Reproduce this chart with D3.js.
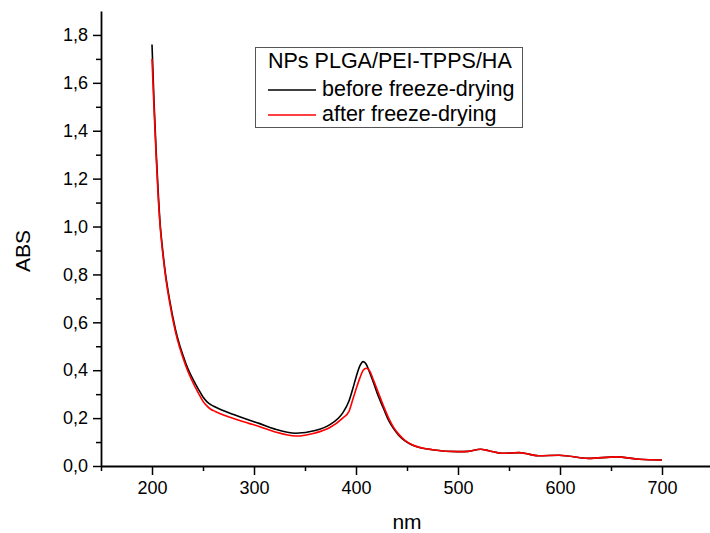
<!DOCTYPE html>
<html>
<head>
<meta charset="utf-8">
<script src="https://cdn.jsdelivr.net/npm/d3@7"></script>
<style>
  body { margin: 0; background: #fff; }
  svg { display: block; font-family: Arial, "Liberation Sans", sans-serif; }
</style>
</head>
<body>
<div id="chart"></div>
<script>
'use strict';

var w = 710;
var h = 533;

// wavelength (nm)
var wavelength = [200, 202, 204, 206, 208, 210, 213, 217, 223, 233, 246, 250, 254, 258, 262, 280,
  295, 305, 320, 341, 360, 374, 387, 393, 397, 400, 404, 407, 410, 413, 417, 422, 427, 432, 437,
  442, 448, 455, 475, 500, 510, 522, 530, 543, 560, 579, 599, 628, 655, 678, 700];

// absorbance before freeze-drying
var absBefore = [1.76, 1.52, 1.32, 1.15, 1.01, 0.92, 0.81, 0.70, 0.57, 0.43, 0.317, 0.288, 0.268,
  0.255, 0.246, 0.215, 0.192, 0.178, 0.155, 0.137, 0.148, 0.172, 0.222, 0.27, 0.325, 0.37, 0.42,
  0.436, 0.425, 0.395, 0.35, 0.29, 0.24, 0.19, 0.155, 0.128, 0.105, 0.088, 0.068, 0.06, 0.061,
  0.07, 0.064, 0.053, 0.056, 0.043, 0.045, 0.032, 0.038, 0.028, 0.025];

// absorbance after freeze-drying
var absAfter = [1.70, 1.49, 1.30, 1.13, 1.00, 0.91, 0.80, 0.69, 0.56, 0.42, 0.30, 0.27, 0.25,
  0.236, 0.228, 0.198, 0.178, 0.165, 0.143, 0.125, 0.138, 0.16, 0.20, 0.227, 0.28, 0.32, 0.37,
  0.40, 0.408, 0.40, 0.36, 0.305, 0.25, 0.20, 0.16, 0.132, 0.107, 0.089, 0.068, 0.06, 0.061,
  0.07, 0.064, 0.053, 0.056, 0.043, 0.045, 0.032, 0.038, 0.028, 0.025];

var xTicks = [200, 300, 400, 500, 600, 700];
var xMinor = [150, 250, 350, 450, 550, 650, 750];
var yTicks = [0, 0.2, 0.4, 0.6, 0.8, 1.0, 1.2, 1.4, 1.6, 1.8];
var yMinor = [0.1, 0.3, 0.5, 0.7, 0.9, 1.1, 1.3, 1.5, 1.7];

var legendTitle = 'NPs PLGA/PEI-TPPS/HA';
var seriesNames = ['before freeze-drying', 'after freeze-drying'];
var seriesColors = ['#000000', '#ff0000'];

var x = d3.scaleLinear().domain([150, 750]).range([101, 713]);
var y = d3.scaleLinear().domain([0, 1.9]).range([466, 11]);

var svg = d3.select('#chart').append('svg')
  .attr('width', w)
  .attr('height', h);

var fmt = function(d) { return d3.format('.1f')(d).replace('.', ','); };

// minor ticks first
svg.append('g')
  .attr('transform', 'translate(0,466)')
  .call(d3.axisBottom(x).tickValues(xMinor).tickSize(5).tickFormat(''))
  .call(function(g) { g.select('.domain').remove(); });

svg.append('g')
  .attr('transform', 'translate(101,0)')
  .call(d3.axisLeft(y).tickValues(yMinor).tickSize(5).tickFormat(''))
  .call(function(g) { g.select('.domain').remove(); });

svg.append('g')
  .attr('transform', 'translate(0,466)')
  .call(d3.axisBottom(x).tickValues(xTicks).tickSize(9).tickSizeOuter(0).tickPadding(6));

svg.append('g')
  .attr('transform', 'translate(101,0)')
  .call(d3.axisLeft(y).tickValues(yTicks).tickSize(8).tickSizeOuter(0).tickPadding(5).tickFormat(fmt));

svg.selectAll('.tick line').attr('stroke', '#000').attr('stroke-width', 1.5);
svg.selectAll('.domain').attr('stroke', '#000').attr('stroke-width', 1.8);
svg.selectAll('.tick text')
  .attr('fill', '#000')
  .style('font-size', '18px')
  .style('font-family', 'Arial, "Liberation Sans", sans-serif');

// axis titles
svg.append('text')
  .attr('x', 407)
  .attr('y', 529)
  .attr('text-anchor', 'middle')
  .style('font-size', '21px')
  .text('nm');

svg.append('text')
  .attr('transform', 'translate(30,251) rotate(-90)')
  .attr('text-anchor', 'middle')
  .style('font-size', '21px')
  .text('ABS');

// curves
var line = d3.line()
  .x(function(d) { return x(d[0]); })
  .y(function(d) { return y(d[1]); })
  .curve(d3.curveMonotoneX);

var series = [absBefore, absAfter];
series.forEach(function(vals, i) {
  svg.append('path')
    .datum(wavelength.map(function(nm, j) { return [nm, vals[j]]; }))
    .attr('fill', 'none')
    .attr('stroke', seriesColors[i])
    .attr('stroke-width', 1.6)
    .attr('d', line);
});

// legend
var legend = svg.append('g');
legend.append('rect')
  .attr('x', 255.5)
  .attr('y', 47.5)
  .attr('width', 267)
  .attr('height', 80)
  .attr('fill', '#fff')
  .attr('stroke', '#555')
  .attr('stroke-width', 1);

legend.append('text')
  .attr('x', 268)
  .attr('y', 68)
  .style('font-size', '21.5px')
  .text(legendTitle);

seriesNames.forEach(function(name, i) {
  var ly = 90 + i * 25;
  legend.append('line')
    .attr('x1', 268).attr('x2', 316)
    .attr('y1', ly).attr('y2', ly)
    .attr('stroke', seriesColors[i])
    .attr('stroke-width', 1.6);
  legend.append('text')
    .attr('x', 322)
    .attr('y', ly + 6)
    .style('font-size', '21.5px')
    .text(name);
});
</script>
</body>
</html>
